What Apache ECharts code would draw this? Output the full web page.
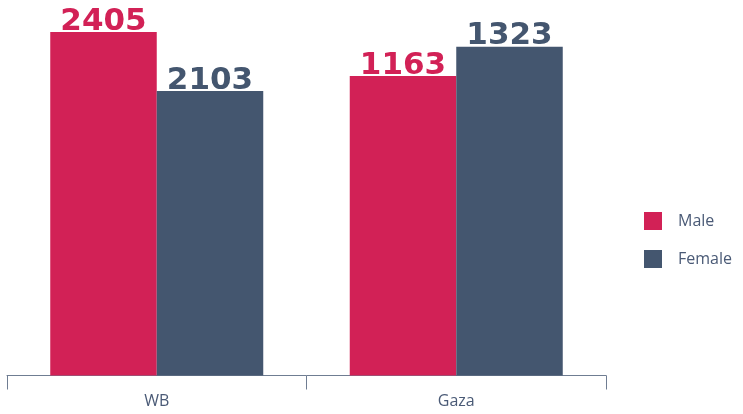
<!DOCTYPE html>
<html>
<head>
<meta charset="utf-8">
<script src="https://cdn.jsdelivr.net/npm/echarts@6/dist/echarts.min.js"></script>
<style>
  html, body { margin: 0; padding: 0; background: #fff; }
  #main { width: 743px; height: 414px; }
</style>
</head>
<body>
<div id="main"></div>
<script>
// categories and legend
var categories = ['WB', 'Gaza']
var seriesNames = ['Male', 'Female']

// numbers printed on the bars
var maleLabels = [2405, 1163]
var femaleLabels = [2103, 1323]

// bar heights as drawn in the reference (they are not in proportion to the labels),
// read off on a scale where the WB male bar is 2405
var maleHeights = [2405, 2097]
var femaleHeights = [1992, 2302]

var maleColor = '#d22156'
var femaleColor = '#44566f'
var textColor = '#4a5a76'

var chart = echarts.init(document.getElementById('main'), null, { renderer: 'canvas' })

function barLabel(labels, color) {
    return {
        show: true,
        position: 'top',
        distance: -5,
        formatter: function (p) {
            return labels[p.dataIndex]
        },
        color: color,
        fontFamily: 'DejaVu Sans',
        fontWeight: 'bold',
        fontSize: 31
    }
}

var option = {
    animation: false,
    backgroundColor: '#fff',
    grid: {
        left: 7,
        top: 0,
        width: 599,
        bottom: 38.5,
        containLabel: false
    },
    legend: {
        orient: 'vertical',
        left: 639,
        top: 207,
        itemWidth: 18,
        itemHeight: 18,
        itemGap: 20,
        icon: 'rect',
        data: seriesNames,
        textStyle: {
            color: textColor,
            fontFamily: 'Open Sans',
            fontSize: 16,
            padding: [0, 0, 0, 11]
        }
    },
    xAxis: {
        type: 'category',
        data: categories,
        boundaryGap: true,
        axisLine: { lineStyle: { color: '#6f7d92', width: 1 } },
        axisTick: { show: true, length: 14, alignWithLabel: false, lineStyle: { color: '#6f7d92' } },
        axisLabel: {
            color: textColor,
            fontFamily: 'Open Sans',
            fontSize: 16,
            margin: 18
        }
    },
    yAxis: {
        type: 'value',
        min: 0,
        max: 2629,
        show: false,
        splitLine: { show: false }
    },
    series: [
        {
            name: 'Male',
            type: 'bar',
            data: maleHeights,
            barWidth: 106.5,
            barGap: 0,
            itemStyle: { color: maleColor },
            label: barLabel(maleLabels, maleColor)
        },
        {
            name: 'Female',
            type: 'bar',
            data: femaleHeights,
            barWidth: 106.5,
            barGap: 0,
            itemStyle: { color: femaleColor },
            label: barLabel(femaleLabels, femaleColor)
        }
    ]
}

chart.setOption(option)
</script>
</body>
</html>
